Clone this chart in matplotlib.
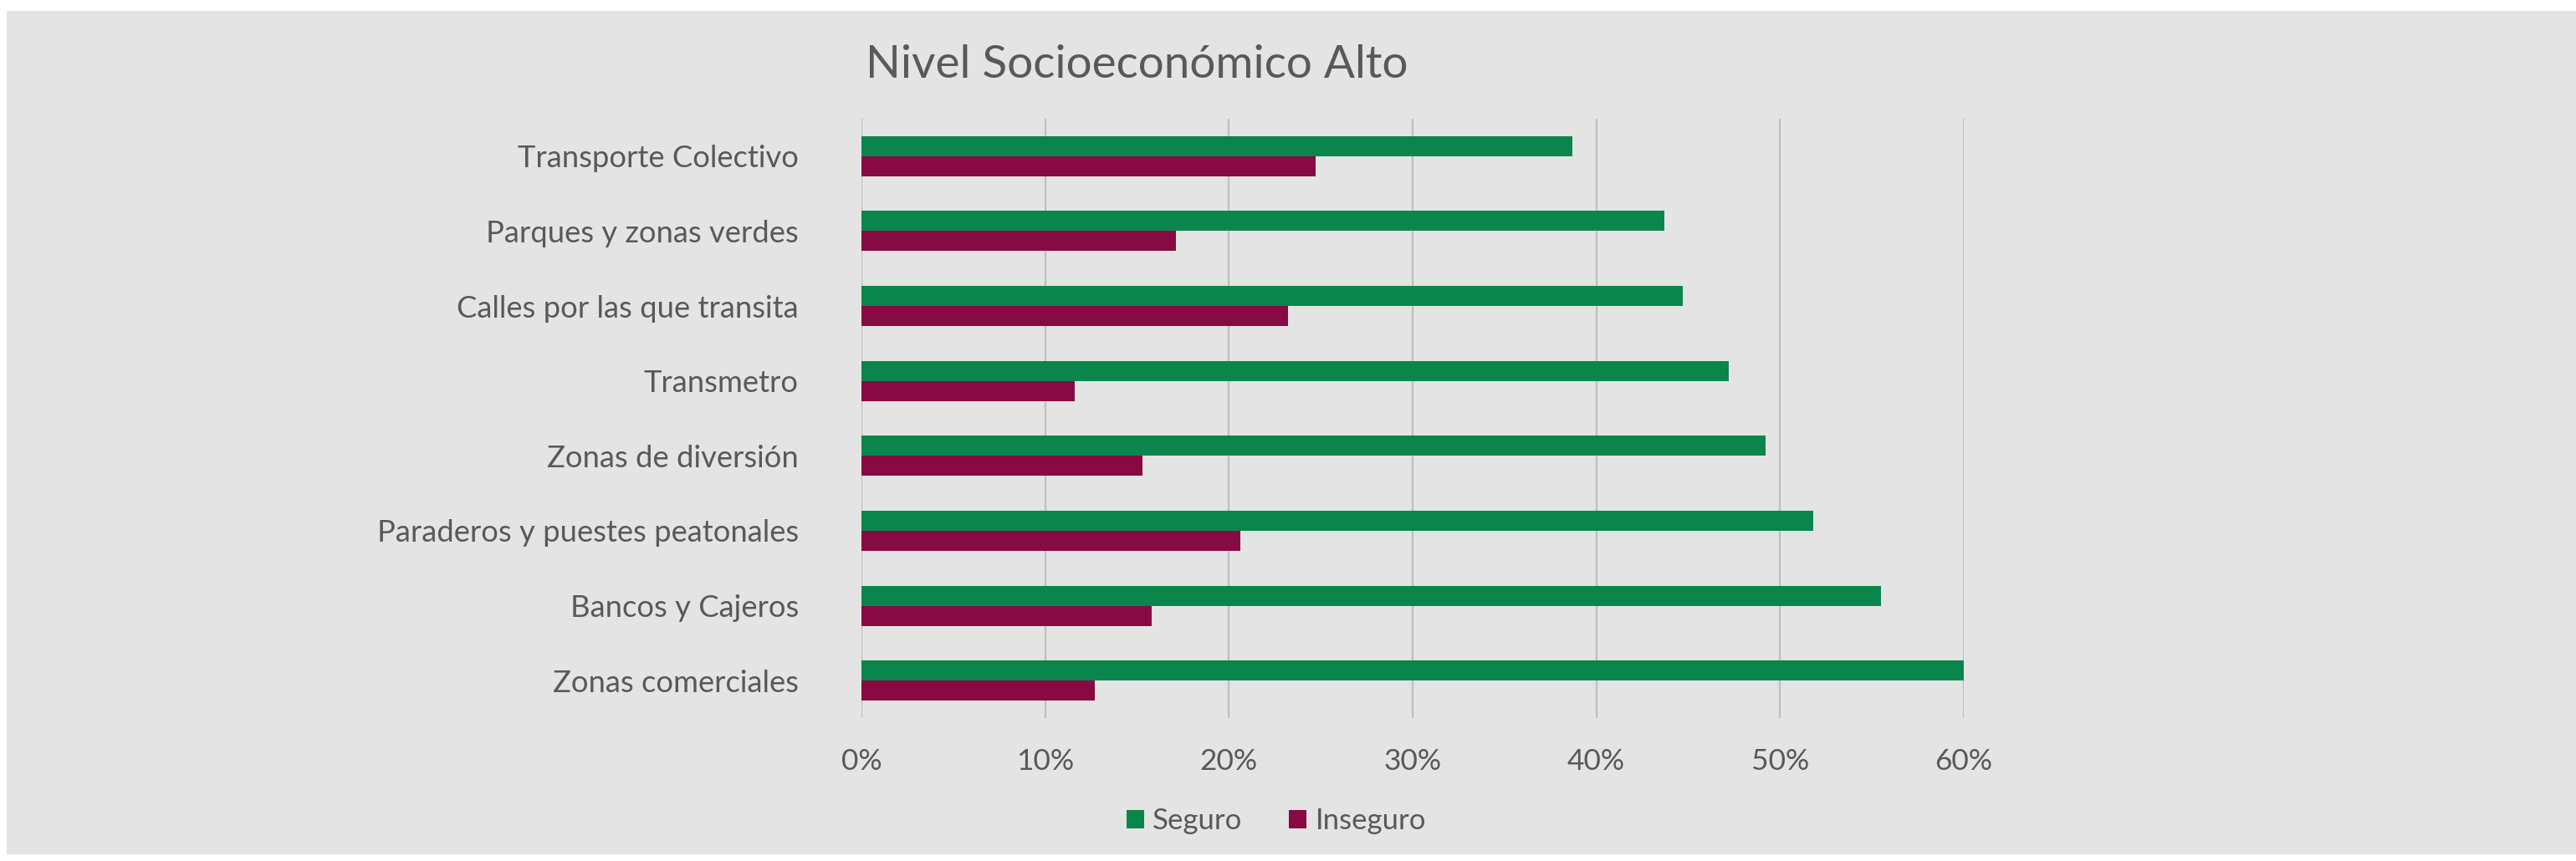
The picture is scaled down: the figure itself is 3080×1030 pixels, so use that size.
import matplotlib
matplotlib.use("Agg")
import matplotlib.pyplot as plt
from matplotlib.patches import Rectangle
from matplotlib.ticker import FuncFormatter
import numpy as np

categories = ["Transporte Colectivo", "Parques y zonas verdes", "Calles por las que transita",
              "Transmetro", "Zonas de diversión", "Paraderos y puestes peatonales",
              "Bancos y Cajeros", "Zonas comerciales"]
seguro = [38.7, 43.7, 44.7, 47.2, 49.2, 51.8, 55.5, 60.1]
inseguro = [24.7, 17.1, 23.2, 11.6, 15.3, 20.6, 15.8, 12.7]
series_names = ["Seguro", "Inseguro"]
title = "Nivel Socioeconómico Alto"
xticks = [0, 10, 20, 30, 40, 50, 60]

GREEN = "#0A864C"
RED = "#870A43"
BG = "#E4E4E4"
TXT = "#595959"
GRID = "#BFBFBF"

plt.rcParams['font.family'] = ['Lato', 'DejaVu Sans']

W, H = 3080, 1030
fig = plt.figure(figsize=(W / 100, H / 100), dpi=100, facecolor="white")
bg = Rectangle((8 / W, 1 - 1022 / H), 1 - 8 / W, (1022 - 13) / H,
               transform=fig.transFigure, facecolor=BG, edgecolor="none", zorder=-10)
fig.patches.append(bg)

ax = fig.add_axes([1030 / W, 1 - 859 / H, (2348 - 1030) / W, (859 - 142) / H])
ax.set_zorder(1)
ax.patch.set_visible(False)

y = np.arange(len(categories))
h = 0.268
ax.barh(y - h / 2, seguro, height=h, color=GREEN, label=series_names[0], zorder=3)
ax.barh(y + h / 2, inseguro, height=h, color=RED, label=series_names[1], zorder=3)

ax.set_xlim(0, 60)
ax.set_ylim(len(categories) - 0.5, -0.5)
ax.set_xticks(xticks)
ax.xaxis.set_major_formatter(FuncFormatter(lambda v, p: f"{v:.0f}%"))
ax.set_yticks(y)
ax.set_yticklabels(categories)
ax.grid(axis='x', color=GRID, linewidth=1.6, zorder=0)
ax.set_axisbelow(True)
for s in ax.spines.values():
    s.set_visible(False)
ax.tick_params(axis='both', length=0, colors=TXT)
ax.tick_params(axis='y', pad=54, labelsize=26.2)
ax.tick_params(axis='x', pad=26, labelsize=25.5)

fig.text(1035 / W, 1 - 77 / H, title, fontsize=39.5, color=TXT, ha='left', va='center')

leg = fig.legend(loc='center', bbox_to_anchor=(1526 / W, 1 - 982 / H), ncol=2, frameon=False,
                 fontsize=25, handlelength=0.6, handleheight=0.6, handletextpad=0.3,
                 columnspacing=1.6, labelcolor=TXT)

fig.savefig("out.png", dpi=100, facecolor="white")
